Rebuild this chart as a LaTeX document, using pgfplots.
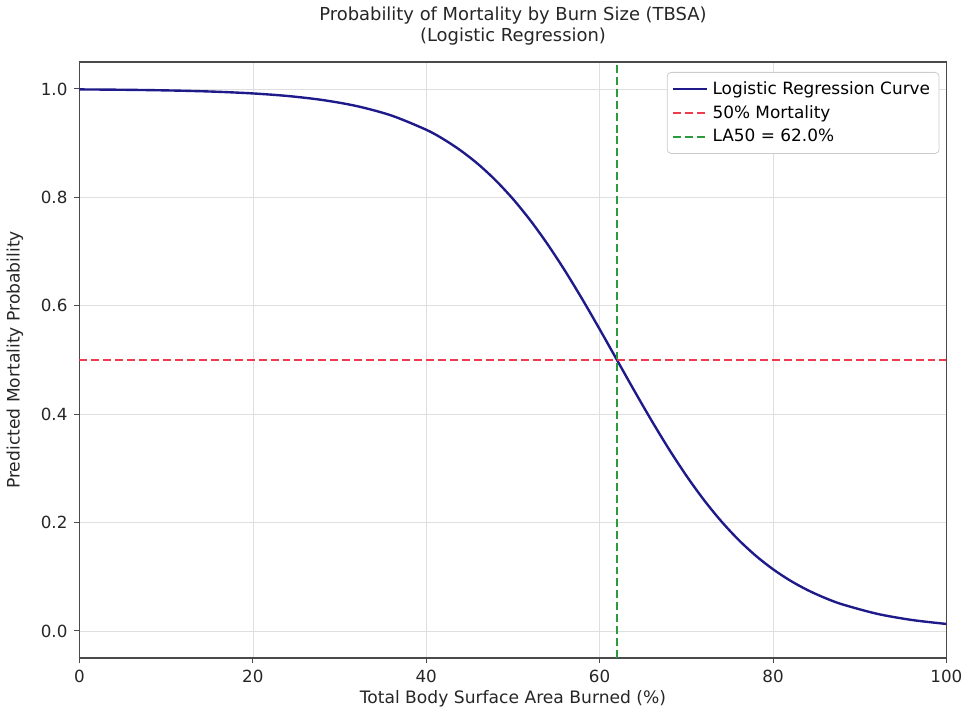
\documentclass[border=0pt]{standalone}
\usepackage{fontspec}
\setmainfont{DejaVu Sans}
\usepackage{pgfplots}
\pgfplotsset{compat=1.18}
\definecolor{curveblue}{HTML}{1F1A8A}
\definecolor{refred}{HTML}{EE3B4E}
\definecolor{refgreen}{HTML}{2E9A3E}
\definecolor{spine}{HTML}{4A4A4A}
\begin{document}
\begin{tikzpicture}
\begin{axis}[
  scale only axis,
  width=435.5pt, height=299.5pt,
  xmin=0, xmax=100, ymin=-0.05, ymax=1.05,
  xtick={0,20,40,60,80,100},
  ytick={0,0.2,0.4,0.6,0.8,1.0},
  xtick pos=bottom, ytick pos=left,
  yticklabel style={/pgf/number format/.cd,fixed,fixed zerofill,precision=1},
  /pgf/number format/assume math mode=true,
  ticklabel style={font=\fontsize{8.4}{10}\selectfont, text=black!85},
  tick style={spine, line width=0.5pt},
  tick align=outside,
  major tick length=2.5pt,
  axis line style={spine, line width=0.75pt},
  grid=major,
  major grid style={gray!25, line width=0.35pt},
  xlabel={Total Body Surface Area Burned (\%)},
  ylabel={Predicted Mortality Probability},
  label style={font=\fontsize{8.6}{10}\selectfont, text=black!85},
  xlabel style={yshift=3pt},
  ylabel style={yshift=2pt},
  title={Probability of Mortality by Burn Size (TBSA)\\(Logistic Regression)},
  title style={font=\fontsize{9}{10.5}\selectfont, align=center, text=black!85, yshift=-1pt},
  legend style={at={(rel axis cs:0.992,0.983)}, anchor=north east, font=\fontsize{8.5}{10.5}\selectfont, draw=gray!40, rounded corners=2pt, inner sep=2.5pt, row sep=0pt},
  legend cell align=left,
]
\addplot[curveblue, line width=1.2pt, smooth] coordinates {
(0,0.99915)(4,0.99866)(8,0.99788)(12,0.99667)(16,0.99475)(20,0.99174)
(24,0.98703)(28,0.97968)(32,0.96833)(36,0.95091)(40,0.92470)(42,0.90721)
(44,0.88614)(46,0.86105)(48,0.83148)(50,0.79705)(52,0.75768)(54,0.71341)
(56,0.66463)(58,0.61207)(60,0.55675)(62,0.5)(64,0.44323)(66,0.38793)
(68,0.33537)(70,0.28659)(72,0.24232)(74,0.20295)(76,0.16852)(78,0.13895)
(80,0.11385)(82,0.09279)(84,0.07530)(86,0.06089)(88,0.04907)(92,0.03168)
(96,0.02031)(100,0.01297)
};
\addlegendentry{Logistic Regression Curve}
\addplot[refred, line width=1pt, dash pattern=on 4pt off 2pt] coordinates {(0,0.5)(100,0.5)};
\addlegendentry{50\% Mortality}
\addplot[refgreen, line width=1pt, dash pattern=on 4pt off 2pt] coordinates {(62,-0.05)(62,1.05)};
\addlegendentry{LA50 = 62.0\%}
\end{axis}
\end{tikzpicture}
\end{document}
